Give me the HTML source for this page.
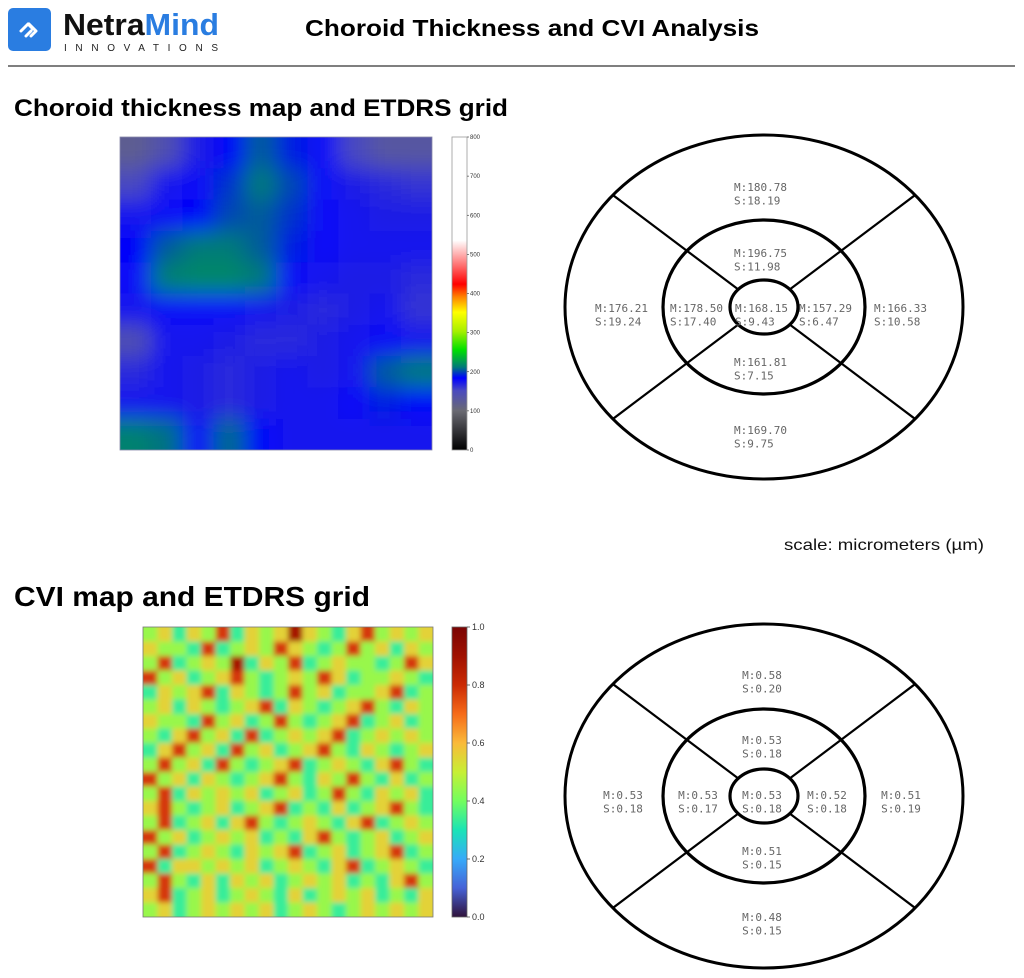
<!DOCTYPE html>
<html><head><meta charset="utf-8"><style>
html,body{margin:0;padding:0;background:#fff;}
svg{display:block;font-family:"Liberation Sans",sans-serif;}
.g{font-family:"DejaVu Sans Mono","Liberation Mono",monospace;font-size:11px;fill:#666;}
</style></head><body>
<svg id="page" width="1024" height="978" viewBox="0 0 1024 978" xmlns="http://www.w3.org/2000/svg">
<defs>
<filter id="blur" x="-0.2" y="-0.2" width="1.4" height="1.4"><feGaussianBlur stdDeviation="11"/></filter>
<filter id="blur2" x="-0.1" y="-0.1" width="1.2" height="1.2"><feGaussianBlur stdDeviation="2.6"/></filter>
<clipPath id="clipT"><rect x="120" y="137" width="312" height="313"/></clipPath>
<clipPath id="clipC"><rect x="143" y="627" width="290" height="290"/></clipPath>
<linearGradient id="cbT" x1="0" y1="1" x2="0" y2="0">
<stop offset="0" stop-color="#000"/><stop offset="0.125" stop-color="#6a6a72"/><stop offset="0.19" stop-color="#4a4ac0"/>
<stop offset="0.23" stop-color="#0000ff"/><stop offset="0.265" stop-color="#007a78"/><stop offset="0.32" stop-color="#00e000"/>
<stop offset="0.38" stop-color="#a8f000"/><stop offset="0.44" stop-color="#ffff00"/><stop offset="0.49" stop-color="#ff8000"/>
<stop offset="0.53" stop-color="#ff0000"/><stop offset="0.59" stop-color="#ff7070"/><stop offset="0.67" stop-color="#fff"/><stop offset="1" stop-color="#fff"/>
</linearGradient>
<linearGradient id="cbC" x1="0" y1="1" x2="0" y2="0">
<stop offset="0" stop-color="#30123b"/><stop offset="0.1" stop-color="#4662d7"/><stop offset="0.2" stop-color="#36aaf9"/>
<stop offset="0.3" stop-color="#1ae4b6"/><stop offset="0.4" stop-color="#72fe5e"/><stop offset="0.5" stop-color="#c7ef34"/>
<stop offset="0.6" stop-color="#faba39"/><stop offset="0.7" stop-color="#f66b19"/><stop offset="0.8" stop-color="#cb2a04"/>
<stop offset="0.9" stop-color="#a01101"/><stop offset="1" stop-color="#7a0403"/>
</linearGradient>
</defs>

<!-- header -->
<rect x="8" y="8" width="43" height="43" rx="5" fill="#2a7de1"/>
<g fill="none" stroke="#fff" stroke-width="3" stroke-linecap="round" stroke-linejoin="round">
<path d="M21 31 L28 24 L33 29 M26 36 L31 31 M29 24 L36 31 L31 36"/>
</g>
<text x="63" y="35" font-size="31" font-weight="bold" textLength="156" lengthAdjust="spacingAndGlyphs"><tspan fill="#111">Netra</tspan><tspan fill="#2a7de1">Mind</tspan></text>
<text x="64" y="51" font-size="10" fill="#222" textLength="154" lengthAdjust="spacing">INNOVATIONS</text>
<text x="305" y="36" font-size="23" font-weight="bold" fill="#000" textLength="454" lengthAdjust="spacingAndGlyphs">Choroid Thickness and CVI Analysis</text>
<line x1="8" y1="66" x2="1015" y2="66" stroke="#555" stroke-width="1.5"/>

<text x="14" y="116" font-size="24" font-weight="bold" textLength="494" lengthAdjust="spacingAndGlyphs">Choroid thickness map and ETDRS grid</text>
<text x="784" y="550" font-size="16" fill="#111" textLength="200" lengthAdjust="spacingAndGlyphs">scale: micrometers (µm)</text>
<text x="14" y="606" font-size="28" font-weight="bold" textLength="356" lengthAdjust="spacingAndGlyphs">CVI map and ETDRS grid</text>

<g id="thickMap" clip-path="url(#clipT)"><g id="thickCells" filter="url(#blur)"></g></g>
<rect x="120" y="137" width="312" height="313" fill="none" stroke="#8888aa" stroke-width="0.8"/>
<rect x="452" y="137" width="15" height="313" fill="url(#cbT)" stroke="#999" stroke-width="0.8"/>
<g id="cbTticks" font-size="6" fill="#333"></g>

<g id="cviMap" clip-path="url(#clipC)"><g id="cviCells" filter="url(#blur2)"></g></g>
<rect x="143" y="627" width="290" height="290" fill="none" stroke="#777" stroke-width="0.8"/>
<rect x="452" y="627" width="15" height="290" fill="url(#cbC)" stroke="#666" stroke-width="0.8"/>
<g id="cbCticks" font-size="9" fill="#333"></g>

<g id="grid1"></g>
<g id="grid2"></g>
</svg>
<script>
const NS="http://www.w3.org/2000/svg";
// thickness map values (µm), 10x10 grid
const thickRows=[
[120,140,170,185,205,190,180,150,130,130],
[150,175,180,195,212,200,180,170,165,160],
[175,180,185,200,205,195,180,175,170,170],
[185,205,212,212,205,190,180,175,175,175],
[180,215,218,218,212,180,175,170,170,165],
[175,180,180,180,175,170,165,170,175,160],
[140,175,175,170,165,165,170,175,180,175],
[165,175,170,165,170,175,170,175,205,212],
[175,175,170,165,170,175,175,180,190,185],
[215,210,180,208,185,175,175,175,175,175]];
const thickTicks=[0,100,200,300,400,500,600,700,800];
// CVI map values, digit d -> d/9
const cviRows=[
"45354735458543574545","54437345475434745354","47345483547345443475","74534574345475344543",
"35457354347453445734","45354345735434574354","54437453474345734534","43574537345457345454",
"35745374534574354345","47453743457345435743","74535434574354743534","47354545345347435453",
"57434534573435345743","47345357434543573454","74534545343574345345","47345435457345345734",
"73554545345435734543","47435354534545343574","57345345435345453435","45345454534543454545"];
const cviTicks=[0.0,0.2,0.4,0.6,0.8,1.0];
// ETDRS sector labels
const sectorNames=["top-outer","top-inner","left-outer","left-inner","center","right-inner","right-outer","bottom-inner","bottom-outer"];
const thickMeans=["180.78","196.75","176.21","178.50","168.15","157.29","166.33","161.81","169.70"];
const thickSD=["18.19","11.98","19.24","17.40","9.43","6.47","10.58","7.15","9.75"];
const cviMeans=["0.58","0.53","0.53","0.53","0.53","0.52","0.51","0.51","0.48"];
const cviSD=["0.20","0.18","0.18","0.17","0.18","0.18","0.19","0.15","0.15"];

function col(stops,v){
  let c=stops[stops.length-1][1];
  if(v<=stops[0][0])c=stops[0][1];
  else for(let i=1;i<stops.length;i++){if(v<=stops[i][0]){const a=stops[i-1],b=stops[i],t=(v-a[0])/(b[0]-a[0]);
    c=a[1].map((x,k)=>Math.round(x+(b[1][k]-x)*t));break;}}
  return `rgb(${c.join(",")})`;
}
const thickStops=[[0,[0,0,0]],[100,[106,106,114]],[150,[74,74,192]],[184,[0,0,255]],[212,[0,122,120]],[256,[0,224,0]],[304,[168,240,0]],[352,[255,255,0]],[392,[255,128,0]],[424,[255,0,0]],[472,[255,112,112]],[536,[255,255,255]],[800,[255,255,255]]];
const turbo=[[0,[48,18,59]],[0.1,[70,98,215]],[0.2,[54,170,249]],[0.3,[26,228,182]],[0.4,[114,254,94]],[0.5,[199,239,52]],[0.6,[250,186,57]],[0.7,[246,107,25]],[0.8,[203,42,4]],[0.9,[160,17,1]],[1,[122,4,3]]];

function cellRect(g,x,y,w,h,i,j,ni,nj,pad,fill,name){
  let X=x,Y=y,W=w,H=h;
  if(i===0){X-=pad;W+=pad;} if(i===ni-1){W+=pad;}
  if(j===0){Y-=pad;H+=pad;} if(j===nj-1){H+=pad;}
  const r=document.createElementNS(NS,"rect");
  r.setAttribute("x",X);r.setAttribute("y",Y);r.setAttribute("width",W+0.5);r.setAttribute("height",H+0.5);
  r.setAttribute("fill",fill);
  
  
  g.appendChild(r);
}

// thickness axes
const tX0=120,tY0=137,tW=312,tH=313;
const txs=i=>tX0+i*tW/thickRows[0].length, tys=j=>tY0+j*tH/thickRows.length;
const tg=document.getElementById("thickCells");
thickRows.forEach((row,j)=>row.forEach((v,i)=>{
  cellRect(tg,txs(i),tys(j),tW/row.length,tH/thickRows.length,i,j,row.length,thickRows.length,40,col(thickStops,v),'thickness-cell');
}));
const cbTy=v=>450-v/800*313;
const ctg=document.getElementById("cbTticks");
thickTicks.forEach(v=>{
  const l=document.createElementNS(NS,"line");
  l.setAttribute("x1",467);l.setAttribute("x2",469);l.setAttribute("y1",cbTy(v));l.setAttribute("y2",cbTy(v));l.setAttribute("stroke","#333");l.setAttribute("stroke-width","0.6");
  ctg.appendChild(l);
  const t=document.createElementNS(NS,"text");
  t.setAttribute("x",470);t.setAttribute("y",cbTy(v)+2);t.textContent=v;
  
  
  ctg.appendChild(t);
});

// CVI axes
const cX0=143,cY0=627,cW=290,cH=290;
const cxs=i=>cX0+i*cW/cviRows[0].length, cys=j=>cY0+j*cH/cviRows.length;
const cg=document.getElementById("cviCells");
cviRows.forEach((row,j)=>row.split("").forEach((d,i)=>{
  cellRect(cg,cxs(i),cys(j),cW/row.length,cH/cviRows.length,i,j,row.length,cviRows.length,10,col(turbo,(+d)/9),'cvi-cell');
}));
const cbCy=v=>917-v*290;
const ccg=document.getElementById("cbCticks");
cviTicks.forEach(v=>{
  const l=document.createElementNS(NS,"line");
  l.setAttribute("x1",467);l.setAttribute("x2",470);l.setAttribute("y1",cbCy(v));l.setAttribute("y2",cbCy(v));l.setAttribute("stroke","#333");l.setAttribute("stroke-width","0.7");
  ccg.appendChild(l);
  const t=document.createElementNS(NS,"text");
  t.setAttribute("x",472);t.setAttribute("y",cbCy(v)+3);t.textContent=v.toFixed(1);
  
  
  ccg.appendChild(t);
});

// ETDRS grids
function etdrs(gid,cy,means,sds,pos,anchor){
  const g=document.getElementById(gid), cx=764;
  const el=(tag,attrs)=>{const e=document.createElementNS(NS,tag);for(const k in attrs)e.setAttribute(k,attrs[k]);g.appendChild(e);return e;};
  const ring=[[199,172],[101,87],[34,27]];
  ring.forEach(([rx,ry],k)=>{
    const e=el("ellipse",{cx:cx,cy:cy,rx:rx,ry:ry,fill:"none",stroke:"#000","stroke-width":k==0?3:3.2});
    
    
  });
  [[-1,-1],[1,-1],[-1,1],[1,1]].forEach(([sx,sy])=>{
    const ang=Math.atan2(sy*120,sx*140);
    const p=(rx,ry)=>[cx+rx*Math.cos(ang),cy+ry*Math.sin(ang)];
    const a=p(34,27),b=p(199,172);
    const l=el("line",{x1:a[0],y1:a[1],x2:b[0],y2:b[1],stroke:"#000","stroke-width":2.2});
    
    
  });
  means.forEach((m,i)=>{
    const t=el("text",{x:pos[i][0],y:cy+pos[i][1],"class":"g","text-anchor":anchor});
    
    
    const a=document.createElementNS(NS,"tspan");a.setAttribute("x",pos[i][0]);a.textContent="M:"+m;t.appendChild(a);
    const b=document.createElementNS(NS,"tspan");b.setAttribute("x",pos[i][0]);b.setAttribute("dy","13.5");b.textContent="S:"+sds[i];t.appendChild(b);
  });
}
etdrs("grid1",307,thickMeans,thickSD,[[734,-116],[734,-50],[595,5],[670,5],[735,5],[799,5],[874,5],[734,59],[734,127]],"start");
etdrs("grid2",796,cviMeans,cviSD,[[762,-117],[762,-52],[623,3],[698,3],[762,3],[827,3],[901,3],[762,59],[762,125]],"middle");
</script>
</body></html>
